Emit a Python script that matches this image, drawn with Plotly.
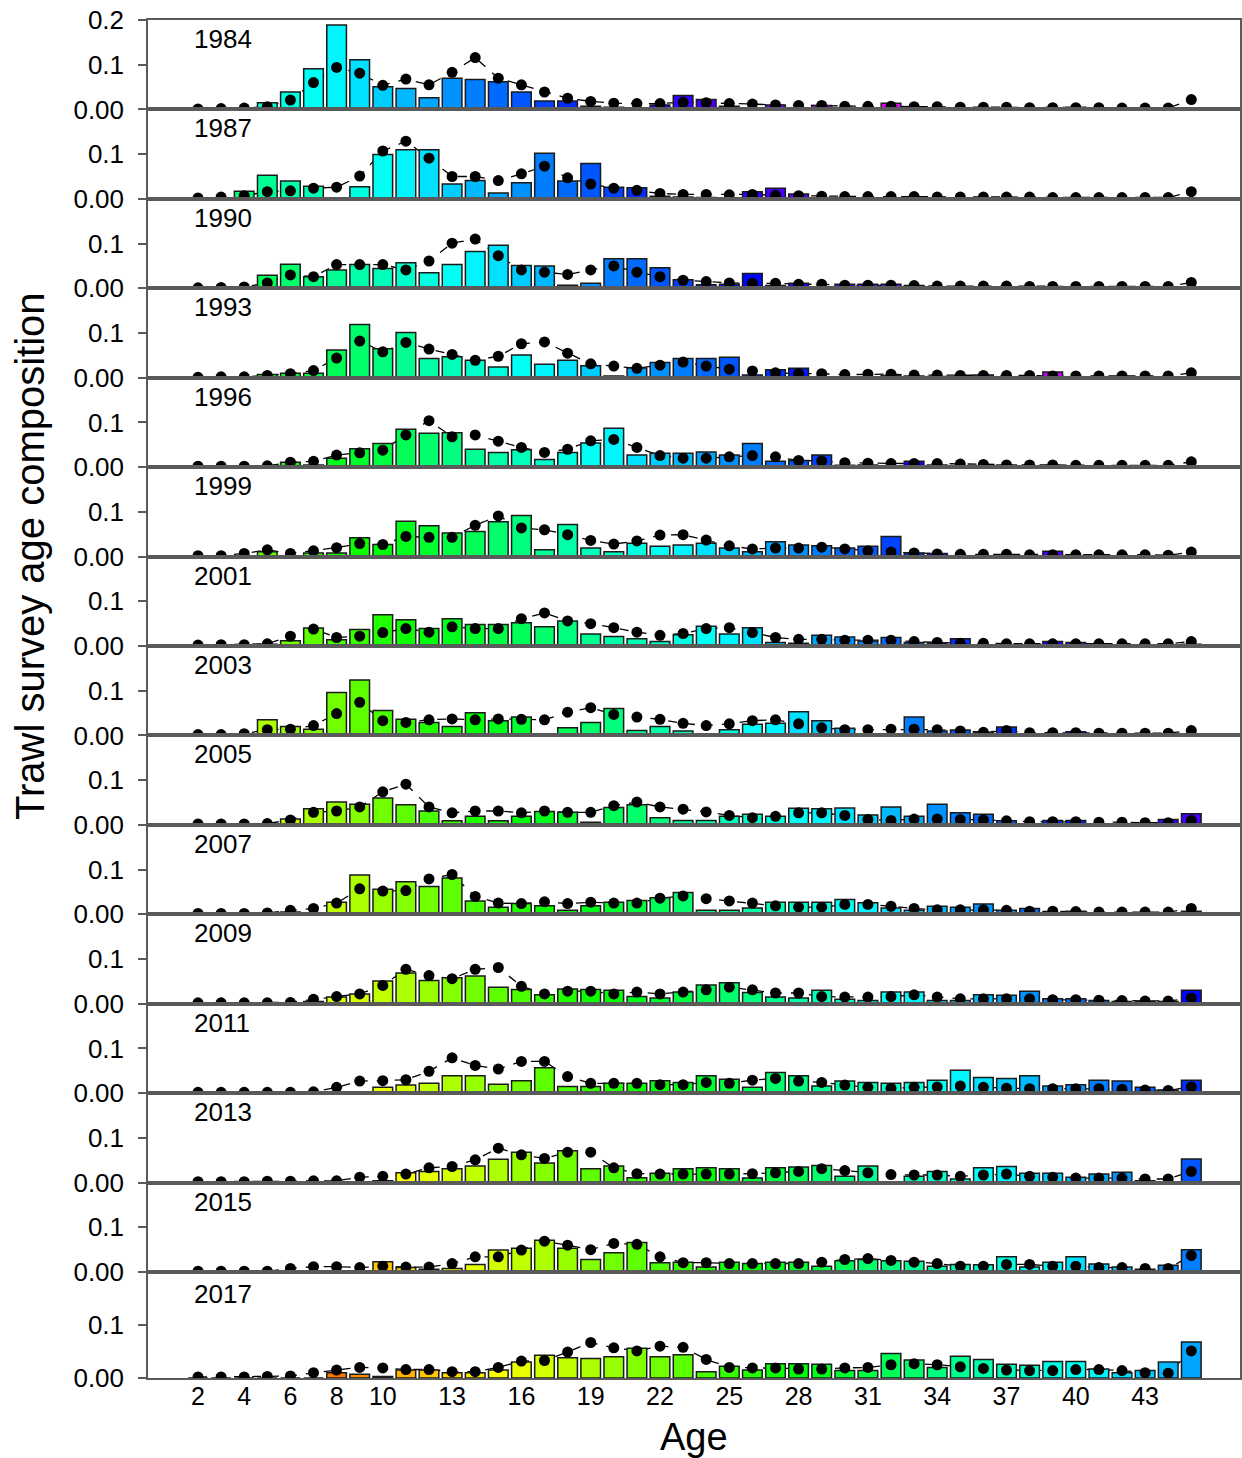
import colorsys
import plotly.graph_objects as go

ages = list(range(2, 46))
years = [1984, 1987, 1990, 1993, 1996, 1999, 2001, 2003, 2005, 2007, 2009, 2011, 2013, 2015, 2017]
x_tick_vals = [2, 4, 6, 8, 10, 13, 16, 19, 22, 25, 28, 31, 34, 37, 40, 43]

obs_1984 = [0,0,0,0.015,0.039,0.091,0.189,0.111,0.051,0.047,0.026,0.070,0.067,0.062,0.039,0.019,0.019,0.007,0.005,0.003,0.010,0.031,
            0.022,0.007,0.001,0.010,0,0.009,0,0,0.014,0,0,0,0,0,0,0,0.005,0,0,0,0,0]
pred_1984 = [0.001,0.002,0.003,0.006,0.021,0.060,0.094,0.081,0.054,0.068,0.055,0.083,0.116,0.070,0.055,0.039,0.025,0.018,0.014,0.013,0.013,0.016,
             0.015,0.013,0.012,0.010,0.009,0.009,0.007,0.007,0.007,0.006,0.006,0.005,0.005,0.005,0.004,0.004,0.004,0.004,0.003,0.003,0.003,0.022]
obs_1987 = [0,0.002,0.017,0.053,0.040,0.028,0.002,0.027,0.099,0.110,0.110,0.033,0.041,0.013,0.036,0.102,0.040,0.079,0.026,0.025,0.006,0.004,
            0.003,0.002,0.016,0.024,0.011,0,0,0.002,0,0,0,0,0,0,0,0,0,0,0,0,0,0]
pred_1987 = [0.002,0.004,0.007,0.016,0.018,0.024,0.026,0.051,0.107,0.129,0.091,0.050,0.050,0.041,0.056,0.073,0.047,0.033,0.024,0.019,0.012,0.010,
             0.010,0.009,0.010,0.008,0.007,0.006,0.005,0.005,0.005,0.005,0.004,0.004,0.004,0.004,0.004,0.003,0.003,0.003,0.003,0.003,0.003,0.016]
obs_1990 = [0,0,0,0.029,0.054,0.026,0.041,0.053,0.044,0.057,0.035,0.053,0.082,0.096,0.051,0.050,0.007,0.011,0.066,0.066,0.046,0.019,
            0.008,0.009,0.033,0.006,0.011,0,0.009,0.009,0.009,0.006,0,0,0,0,0,0,0,0,0,0,0,0]
pred_1990 = [0.001,0.002,0.003,0.012,0.030,0.026,0.053,0.053,0.053,0.041,0.061,0.101,0.110,0.073,0.041,0.036,0.031,0.041,0.050,0.036,0.026,0.018,
             0.015,0.012,0.011,0.011,0.009,0.009,0.007,0.007,0.007,0.006,0.005,0.005,0.005,0.005,0.004,0.004,0.004,0.004,0.004,0.004,0.004,0.013]
obs_1993 = [0,0,0,0.007,0.010,0.010,0.062,0.119,0.065,0.101,0.043,0.047,0.039,0.024,0.051,0.030,0.039,0.027,0.004,0.022,0.034,0.043,
            0.043,0.046,0.006,0.018,0.021,0,0,0.002,0.005,0.004,0.003,0.002,0.006,0,0,0.013,0,0,0,0,0,0]
pred_1993 = [0.001,0.002,0.002,0.005,0.009,0.016,0.044,0.082,0.058,0.079,0.064,0.052,0.039,0.048,0.076,0.080,0.055,0.031,0.026,0.021,0.028,0.035,
             0.026,0.019,0.015,0.011,0.009,0.009,0.007,0.008,0.008,0.006,0.006,0.005,0.005,0.005,0.005,0.004,0.004,0.004,0.004,0.004,0.004,0.011]
obs_1996 = [0,0,0,0.002,0.011,0.005,0.020,0.041,0.053,0.085,0.076,0.077,0.040,0.033,0.039,0.017,0.033,0.054,0.087,0.027,0.031,0.031,
            0.034,0.027,0.053,0.013,0.015,0.027,0.004,0.005,0.002,0.013,0.005,0.002,0,0.005,0,0.002,0,0.002,0.002,0,0,0]
pred_1996 = [0.002,0.002,0.002,0.003,0.011,0.013,0.027,0.032,0.038,0.072,0.104,0.068,0.072,0.058,0.044,0.033,0.040,0.059,0.062,0.044,0.026,0.020,
             0.020,0.023,0.026,0.023,0.015,0.014,0.010,0.009,0.008,0.008,0.008,0.007,0.006,0.005,0.005,0.005,0.004,0.004,0.004,0.004,0.004,0.012]
obs_1999 = [0,0,0.002,0.011,0.002,0.008,0.008,0.042,0.027,0.079,0.069,0.053,0.056,0.078,0.092,0.015,0.072,0.019,0.011,0.030,0.023,0.026,
            0.030,0.019,0.011,0.033,0.026,0.024,0.019,0.023,0.045,0.008,0.007,0.002,0.002,0.002,0.002,0.012,0.002,0,0,0,0,0]
pred_1999 = [0.002,0.002,0.007,0.015,0.007,0.013,0.020,0.029,0.027,0.045,0.043,0.043,0.070,0.091,0.064,0.060,0.049,0.036,0.028,0.035,0.048,0.049,
             0.037,0.024,0.017,0.019,0.019,0.021,0.017,0.013,0.010,0.008,0.006,0.005,0.005,0.005,0.004,0.004,0.004,0.004,0.004,0.004,0.003,0.010]
obs_2001 = [0,0.002,0.002,0.004,0.012,0.040,0.014,0.037,0.070,0.059,0.039,0.061,0.048,0.048,0.052,0.043,0.056,0.027,0.021,0.016,0.010,0.025,
            0.044,0.027,0.041,0.008,0.006,0.024,0.020,0.011,0.019,0.008,0.007,0.016,0.001,0,0.001,0.010,0.008,0,0,0,0,0.004]
pred_2001 = [0.002,0.003,0.003,0.005,0.022,0.038,0.019,0.022,0.030,0.039,0.031,0.043,0.039,0.039,0.061,0.074,0.056,0.050,0.041,0.031,0.024,0.028,
             0.039,0.041,0.030,0.019,0.015,0.015,0.013,0.013,0.013,0.010,0.008,0.006,0.006,0.005,0.005,0.005,0.005,0.005,0.005,0.005,0.005,0.010]
obs_2003 = [0,0,0,0.035,0.020,0.014,0.096,0.124,0.056,0.036,0.029,0.020,0.051,0.033,0.041,0.001,0.017,0.029,0.060,0.011,0.020,0.010,
            0.004,0.013,0.025,0.027,0.053,0.033,0.016,0,0,0.041,0.010,0.012,0.007,0.019,0,0.002,0.008,0,0,0,0,0]
pred_2003 = [0.002,0.002,0.004,0.013,0.014,0.022,0.049,0.074,0.033,0.029,0.035,0.037,0.035,0.037,0.036,0.035,0.052,0.062,0.047,0.041,0.036,0.027,
             0.022,0.026,0.033,0.035,0.026,0.017,0.013,0.013,0.014,0.014,0.013,0.010,0.007,0.011,0.006,0.006,0.006,0.005,0.005,0.005,0.005,0.011]
obs_2005 = [0,0,0,0,0.013,0.036,0.051,0.046,0.060,0.045,0.031,0.009,0.019,0.009,0.019,0.030,0.028,0.006,0.039,0.045,0.016,0.010,
            0.010,0.019,0.024,0.019,0.037,0.036,0.038,0.022,0.040,0.019,0.046,0.027,0.024,0.009,0.002,0.010,0.010,0.001,0,0.002,0.012,0.025]
pred_2005 = [0.002,0.002,0.002,0.003,0.011,0.028,0.031,0.040,0.074,0.091,0.040,0.027,0.031,0.031,0.027,0.031,0.028,0.028,0.043,0.051,0.040,0.035,
             0.029,0.021,0.016,0.019,0.027,0.027,0.021,0.012,0.010,0.013,0.013,0.012,0.011,0.009,0.007,0.007,0.007,0.006,0.006,0.005,0.005,0.010]
obs_2007 = [0,0,0,0,0.005,0.003,0.027,0.088,0.056,0.073,0.062,0.081,0.030,0.016,0.024,0.019,0.009,0.019,0.027,0.031,0.037,0.049,
            0.009,0.009,0.014,0.027,0.027,0.027,0.033,0.026,0.014,0.009,0.018,0.016,0.023,0.009,0.013,0.002,0.007,0.002,0.001,0,0.002,0.007]
pred_2007 = [0.002,0.002,0.002,0.003,0.009,0.013,0.025,0.057,0.052,0.053,0.079,0.089,0.040,0.025,0.024,0.028,0.024,0.027,0.025,0.025,0.036,0.041,
             0.035,0.030,0.025,0.019,0.016,0.016,0.022,0.022,0.018,0.013,0.010,0.010,0.010,0.009,0.007,0.007,0.006,0.005,0.005,0.005,0.005,0.013]
obs_2009 = [0,0,0,0,0,0.005,0.015,0.022,0.051,0.069,0.052,0.058,0.062,0.037,0.032,0.020,0.033,0.032,0.030,0.016,0.013,0.026,
            0.042,0.047,0.025,0.015,0.013,0.030,0.010,0.007,0.026,0.026,0.007,0.007,0.020,0.019,0.028,0.011,0.011,0.007,0.005,0.005,0.005,0.030]
pred_2009 = [0.002,0.002,0.002,0.002,0.003,0.010,0.016,0.022,0.041,0.077,0.063,0.056,0.077,0.081,0.039,0.022,0.028,0.028,0.022,0.026,0.022,0.026,
             0.031,0.037,0.031,0.024,0.024,0.016,0.015,0.015,0.016,0.020,0.015,0.011,0.011,0.011,0.011,0.009,0.009,0.008,0.007,0.006,0.006,0.013]
obs_2011 = [0,0,0,0,0,0,0.002,0.002,0.013,0.018,0.022,0.039,0.039,0.020,0.028,0.057,0.015,0.015,0.022,0.022,0.028,0.024,
            0.039,0.031,0.013,0.046,0.039,0.016,0.027,0.024,0.022,0.024,0.029,0.051,0.035,0.033,0.039,0.016,0.019,0.029,0.027,0.013,0.007,0.029]
pred_2011 = [0.002,0.002,0.002,0.002,0.002,0.003,0.013,0.027,0.028,0.030,0.049,0.079,0.062,0.054,0.071,0.071,0.037,0.022,0.022,0.022,0.019,0.019,
             0.024,0.022,0.029,0.033,0.027,0.024,0.018,0.013,0.011,0.013,0.014,0.016,0.013,0.011,0.010,0.010,0.010,0.010,0.009,0.007,0.006,0.014]
obs_2013 = [0,0,0,0,0,0,0,0,0.004,0.022,0.025,0.031,0.037,0.052,0.068,0.044,0.071,0.031,0.037,0.011,0.021,0.031,
            0.033,0.031,0.010,0.033,0.035,0.038,0.014,0.037,0.002,0.014,0.025,0.008,0.033,0.036,0.021,0.021,0.012,0.019,0.023,0.004,0.002,0.053]
pred_2013 = [0.002,0.002,0.002,0.003,0.003,0.004,0.004,0.012,0.014,0.019,0.033,0.036,0.051,0.077,0.062,0.054,0.068,0.068,0.033,0.020,0.019,0.019,
             0.019,0.019,0.020,0.022,0.025,0.031,0.027,0.022,0.018,0.017,0.017,0.014,0.017,0.019,0.014,0.012,0.010,0.010,0.010,0.008,0.008,0.025]
obs_2015 = [0,0,0,0,0.002,0.002,0.002,0.002,0.023,0.010,0.006,0.008,0.017,0.049,0.053,0.071,0.053,0.028,0.043,0.066,0.021,0.022,
            0.011,0.022,0.019,0.022,0.022,0.013,0.025,0.028,0.025,0.024,0.013,0.017,0.016,0.034,0.011,0.022,0.034,0.018,0.011,0.006,0.015,0.050]
pred_2015 = [0.002,0.002,0.002,0.002,0.008,0.012,0.012,0.010,0.013,0.011,0.011,0.019,0.034,0.034,0.049,0.069,0.060,0.050,0.064,0.062,0.034,0.021,
             0.021,0.019,0.019,0.019,0.019,0.022,0.028,0.030,0.026,0.022,0.019,0.013,0.013,0.017,0.017,0.013,0.013,0.010,0.010,0.008,0.008,0.037]
obs_2017 = [0,0,0,0,0,0,0.010,0.007,0.003,0.015,0.015,0.010,0.010,0.015,0.030,0.043,0.038,0.037,0.040,0.056,0.040,0.044,
            0.012,0.022,0.015,0.027,0.027,0.026,0.014,0.014,0.046,0.034,0.020,0.041,0.035,0.026,0.024,0.031,0.031,0.017,0.010,0.014,0.030,0.068]
pred_2017 = [0.002,0.002,0.002,0.003,0.004,0.010,0.015,0.020,0.019,0.016,0.016,0.012,0.012,0.020,0.032,0.033,0.049,0.067,0.057,0.051,0.060,0.058,
             0.035,0.020,0.019,0.019,0.017,0.017,0.019,0.020,0.025,0.027,0.025,0.021,0.018,0.015,0.014,0.014,0.016,0.016,0.014,0.010,0.009,0.051]

observed = [obs_1984, obs_1987, obs_1990, obs_1993, obs_1996, obs_1999, obs_2001, obs_2003,
            obs_2005, obs_2007, obs_2009, obs_2011, obs_2013, obs_2015, obs_2017]
predicted = [pred_1984, pred_1987, pred_1990, pred_1993, pred_1996, pred_1999, pred_2001, pred_2003,
             pred_2005, pred_2007, pred_2009, pred_2011, pred_2013, pred_2015, pred_2017]

for o, p in zip(observed, predicted):
    assert len(o) == len(ages) and len(p) == len(ages)

FONT = "Arial, Liberation Sans, sans-serif"
N_COH = 77
NEWEST = 2015


def cohort_color(cohort):
    h = ((NEWEST - cohort) * 360.0 / N_COH) % 360.0 / 360.0
    r, g, b = colorsys.hsv_to_rgb(h, 1.0, 1.0)
    return "rgb(%d,%d,%d)" % (round(r * 255), round(g * 255), round(b * 255))


# layout geometry (pixels)
W, H = 1242, 1458
left, right, top, bottom = 148, 1240, 20, 1378
ph = bottom - top
panel_h = 89.43
tops = [top + panel_h * k for k in range(15)]
bots = [top + panel_h * (k + 1) for k in range(14)] + [bottom]

x_min = 2 - (198 - left) / 23.1
x_max = x_min + (right - left) / 23.1
LINE_COL = "#5a5a5a"

fig = go.Figure()
layout = dict(
    width=W, height=H,
    margin=dict(l=left, r=W - right, t=top, b=H - bottom, pad=0),
    plot_bgcolor="white", paper_bgcolor="white",
    showlegend=False,
    font=dict(family=FONT, size=25, color="black"),
)
annotations = []

for k, yr in enumerate(years):
    bid = "" if k == 0 else str(k + 1)
    oid = str(k + 16)
    d0 = (bottom - bots[k]) / ph
    d1 = (bottom - tops[k]) / ph
    last = (k == 14)

    layout["xaxis" + bid] = dict(
        domain=[0, 1], anchor="y" + bid, range=[x_min, x_max],
        showline=True, mirror=True, linecolor=LINE_COL, linewidth=1.5,
        showgrid=False, zeroline=False,
        tickvals=x_tick_vals if last else [], showticklabels=last,
        ticks="", tickfont=dict(size=25, family=FONT, color="black"),
        ticklabelstandoff=-5,
        fixedrange=True, automargin=False,
    )
    yvals = [0, 0.1, 0.2] if k == 0 else [0, 0.1]
    ytext = ["0.00", "0.1", "0.2"] if k == 0 else ["0.00", "0.1"]
    layout["yaxis" + bid] = dict(
        domain=[d0, d1], anchor="x" + bid, range=[0, 0.2],
        showline=True, mirror=True, linecolor=LINE_COL, linewidth=1.5,
        showgrid=False, zeroline=False,
        tickvals=yvals, ticktext=ytext, ticks="outside", ticklen=8,
        tickcolor=LINE_COL, tickwidth=1.5,
        tickfont=dict(size=26, family=FONT, color="black"),
        ticklabelstandoff=9,
        fixedrange=True, automargin=False,
    )
    layout["xaxis" + oid] = dict(
        overlaying="x" + bid, anchor="y" + oid, range=[x_min, x_max],
        visible=False, fixedrange=True,
    )
    layout["yaxis" + oid] = dict(
        overlaying="y" + bid, anchor="x" + oid, range=[0, 0.2],
        visible=False, fixedrange=True,
    )

    obs = observed[k]
    pred = predicted[k]
    colors = [cohort_color(yr - a) for a in ages]

    # dashed line behind bars
    fig.add_trace(go.Scatter(
        x=ages, y=pred, mode="lines",
        line=dict(color="black", width=1.3, dash="dash"),
        xaxis="x" + bid, yaxis="y" + bid, hoverinfo="skip",
    ))
    fig.add_trace(go.Bar(
        x=ages, y=obs, width=0.85,
        marker=dict(color=colors, line=dict(color="#1a1a1a", width=1.5)),
        xaxis="x" + oid, yaxis="y" + oid,
    ))
    fig.add_trace(go.Scatter(
        x=ages, y=pred, mode="markers",
        marker=dict(color="black", size=11),
        xaxis="x" + oid, yaxis="y" + oid, cliponaxis=True,
    ))

    label_off = 22 if last else 19
    annotations.append(dict(
        text=str(yr), xref="paper", yref="paper",
        x=(192 - left) / (right - left), y=(bottom - (tops[k] + label_off)) / ph,
        xanchor="left", yanchor="middle", showarrow=False,
        font=dict(size=26, family=FONT, color="black"),
    ))

annotations.append(dict(
    text="Age", xref="paper", yref="paper",
    x=(694 - left) / (right - left), y=(bottom - 1437) / ph,
    xanchor="center", yanchor="middle", showarrow=False,
    font=dict(size=38, family=FONT, color="black"),
))
annotations.append(dict(
    text="Trawl survey age composition", xref="paper", yref="paper",
    x=(30 - left) / (right - left), y=(bottom - 556) / ph,
    xanchor="center", yanchor="middle", showarrow=False, textangle=-90,
    font=dict(size=40, family=FONT, color="black"),
))
layout["annotations"] = annotations
fig.update_layout(**layout)

fig.write_html("out.html")
